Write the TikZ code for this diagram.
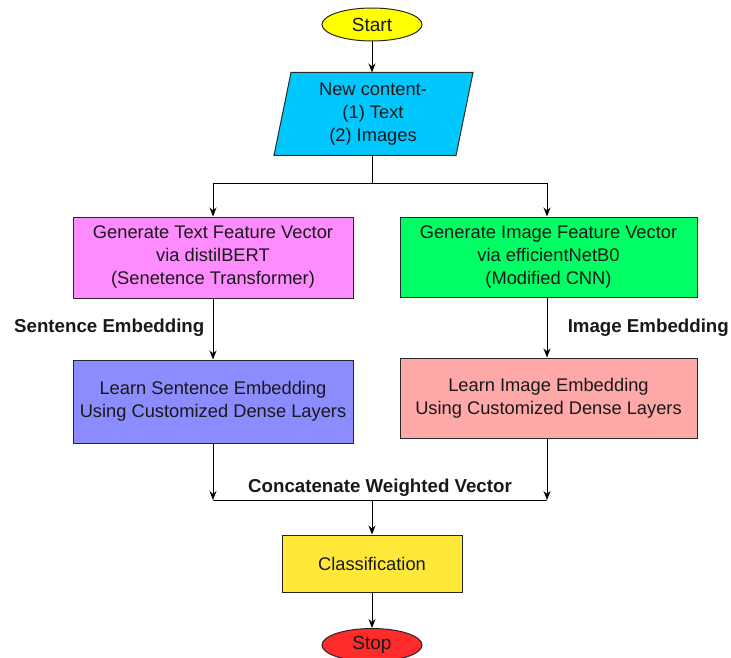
\documentclass[tikz,border=0pt]{standalone}
\usepackage{fontspec}
\setmainfont{Liberation Sans}
\usetikzlibrary{arrows.meta,shapes.geometric}
\definecolor{cstart}{RGB}{255,255,0}
\definecolor{cinput}{RGB}{0,200,255}
\definecolor{cpink}{RGB}{255,140,255}
\definecolor{cgreen}{RGB}{0,255,100}
\definecolor{cblue}{RGB}{140,140,255}
\definecolor{csalmon}{RGB}{255,168,168}
\definecolor{cclass}{RGB}{255,232,56}
\definecolor{cstop}{RGB}{255,42,42}
\definecolor{cline}{RGB}{40,40,40}
\definecolor{ctext}{RGB}{25,25,25}
\tikzset{
  box/.style={draw=cline, line width=1pt, rectangle, align=center, text=ctext,
    font=\fontsize{18.3}{23}\selectfont, inner sep=0pt},
  term/.style={draw=cline, line width=1pt, ellipse, minimum width=100pt, minimum height=33pt,
    inner sep=0pt, text=ctext, font=\fontsize{19}{22}\selectfont},
  lbl/.style={font=\bfseries\fontsize{18.7}{22}\selectfont, text=ctext, inner sep=0pt},
  arr/.style={draw=black, line width=1pt, -{Stealth[length=9pt,width=7pt]}},
  ln/.style={draw=black, line width=1pt},
}
\begin{document}
\begin{tikzpicture}[x=1pt,y=-1pt]
\useasboundingbox (0,0) rectangle (731,658);
\clip (0,0) rectangle (731,658);
% terminals
\node[term, fill=cstart] (start) at (372,24.5) {Start};
% input parallelogram
\node[box, draw=none, minimum width=181pt, minimum height=82pt] (inp) at (373.5,114) {};
\fill[cinput, draw=cline, line width=1pt] ([xshift=8.5pt]inp.north west) -- ([xshift=8.5pt]inp.north east)
   -- ([xshift=-8.5pt]inp.south east) -- ([xshift=-8.5pt]inp.south west) -- cycle;
\node[box, draw=none] (inptext) at (373,114) {New content-\\(1) Text\\(2) Images};
% boxes
\node[box, fill=cpink, minimum width=280pt, minimum height=81pt] (txt) at (213,257.5)
  {Generate Text Feature Vector\\via distilBERT\\(Senetence Transformer)};
\node[box, fill=cgreen, minimum width=297pt, minimum height=80pt] (img) at (548.5,257)
  {Generate Image Feature Vector\\via efficientNetB0\\(Modified CNN)};
\node[box, fill=cblue, minimum width=280pt, minimum height=83pt] (lse) at (213,401.5)
  {Learn Sentence Embedding\\Using Customized Dense Layers};
\node[box, fill=csalmon, minimum width=297pt, minimum height=80pt] (lie) at (548.5,398)
  {Learn Image Embedding\\Using Customized Dense Layers};
\node[box, fill=cclass, minimum width=180pt, minimum height=57pt] (cls) at (372,563.5) {Classification};
\node[term, fill=cstop] (stop) at (372,645) {Stop};
% labels
\node[lbl, anchor=west] (l1) at (14,328) {Sentence Embedding};
\node[lbl, anchor=east] (l2) at (729,328) {Image Embedding};
\node[lbl] (l3) at (380,488) {Concatenate Weighted Vector};
% coordinates
\coordinate (split) at (372,183);
\coordinate (sl) at (213,183);
\coordinate (sr) at (547,183);
\coordinate (jl) at (213,500);
\coordinate (jr) at (547,500);
\coordinate (jm) at (372,500);
% connectors
\draw[arr] (start.south) -- (start |- inp.north);
\draw[ln] (start |- inp.south) -- (split);
\draw[ln] (sl) -- (sr);
\draw[arr] (sl) -- (sl |- txt.north);
\draw[arr] (sr) -- (sr |- img.north);
\draw[arr] (sl |- txt.south) -- (sl |- lse.north);
\draw[arr] (sr |- img.south) -- (sr |- lie.north);
\draw[arr] (jl |- lse.south) -- (jl);
\draw[arr] (jr |- lie.south) -- (jr);
\draw[ln] (jl) -- (jr);
\draw[arr] (jm) -- (jm |- cls.north);
\draw[arr] (cls.south) -- (stop.north);
\end{tikzpicture}
\end{document}
